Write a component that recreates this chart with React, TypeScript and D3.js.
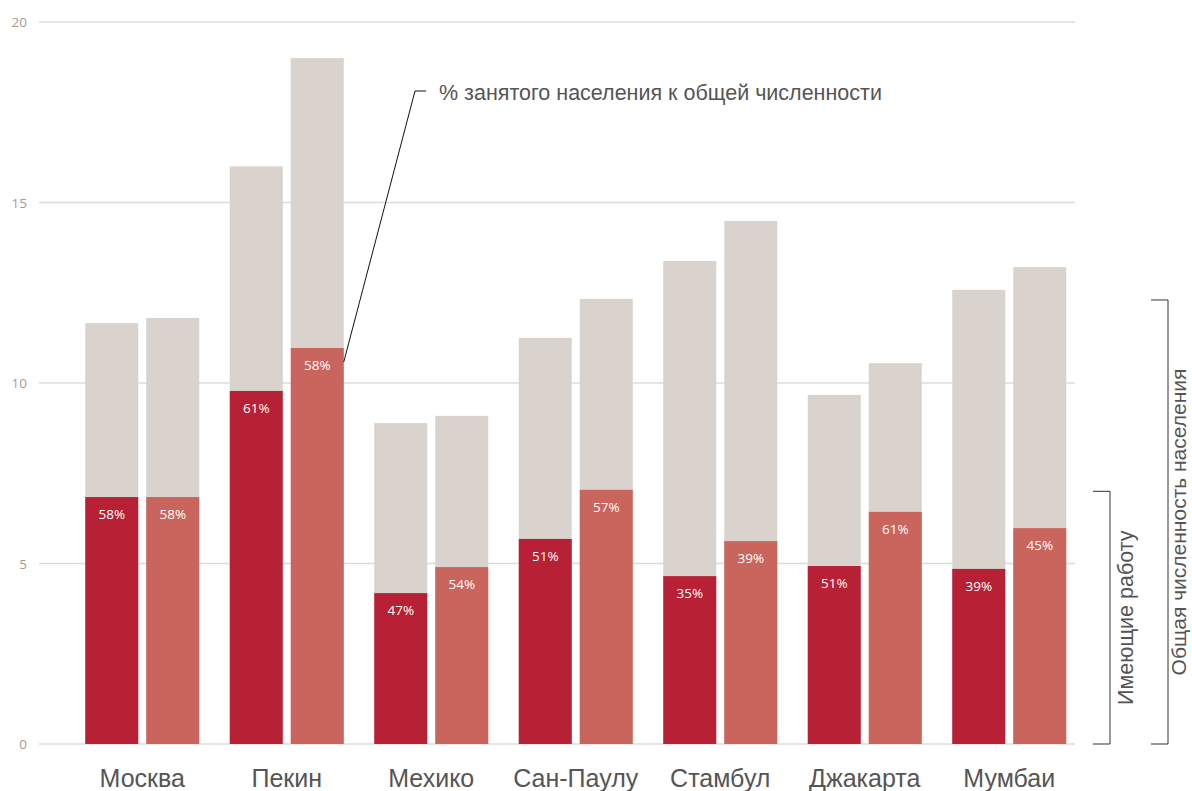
import React from "react";
import * as d3 from "d3";

const cities = ["Москва", "Пекин", "Мехико", "Сан-Паулу", "Стамбул", "Джакарта", "Мумбаи"];
const total1 = [11.66, 16.0, 8.89, 11.25, 13.38, 9.67, 12.58];
const employed1 = [6.84, 9.78, 4.18, 5.68, 4.65, 4.93, 4.85];
const pct1 = ["58%", "61%", "47%", "51%", "35%", "51%", "39%"];
const total2 = [11.8, 19.0, 9.09, 12.33, 14.49, 10.55, 13.21];
const employed2 = [6.84, 10.97, 4.9, 7.04, 5.62, 6.43, 5.98];
const pct2 = ["58%", "58%", "54%", "57%", "39%", "61%", "45%"];
const yTicks = [0, 5, 10, 15, 20];

const W = 1192;
const H = 791;

export default function App() {
  const y = d3.scaleLinear().domain([0, 20]).range([744, 22]);
  const x = d3.scaleBand<string>().domain(cities).range([70, 1081.5]);
  const barW = 53;
  const gap = 8;
  const gray = "#dad2cd";
  const dark = "#b82035";
  const light = "#c9655c";
  const textFont = "'Liberation Sans', Arial, sans-serif";
  const labelFont = "'Open Sans', sans-serif";

  const center = (c: string) => (x(c) as number) + x.bandwidth() / 2;
  const annStart = [center(cities[1]) + gap / 2 + barW, y(employed2[1]) + 14];

  return (
    <svg width={W} height={H} style={{ position: "absolute", left: 0, top: 0, background: "#fff" }}>
      {yTicks.map((t) => (
        <g key={t}>
          <line x1={39} x2={1075} y1={y(t)} y2={y(t)} stroke="#dcdcdc" strokeWidth={1.3} />
          <text x={27} y={y(t) + 5} textAnchor="end" fontSize={13.5} fill="#a8998f" fontFamily={labelFont}>
            {t}
          </text>
        </g>
      ))}
      {cities.map((c, i) => {
        const cx = center(c);
        const x1 = cx - gap / 2 - barW;
        const x2 = cx + gap / 2;
        return (
          <g key={c}>
            <rect x={x1} y={y(total1[i])} width={barW} height={y(0) - y(total1[i])} fill={gray} />
            <rect x={x2} y={y(total2[i])} width={barW} height={y(0) - y(total2[i])} fill={gray} />
            <rect x={x1} y={y(employed1[i])} width={barW} height={y(0) - y(employed1[i])} fill={dark} />
            <rect x={x2} y={y(employed2[i])} width={barW} height={y(0) - y(employed2[i])} fill={light} />
            <text x={x1 + barW / 2} y={y(employed1[i]) + 22} textAnchor="middle" fontSize={13.5} fill="#fff" fontFamily={labelFont}>
              {pct1[i]}
            </text>
            <text x={x2 + barW / 2} y={y(employed2[i]) + 22} textAnchor="middle" fontSize={13.5} fill="#fff" fontFamily={labelFont}>
              {pct2[i]}
            </text>
            <text x={cx} y={787} textAnchor="middle" fontSize={25} fill="#555" fontFamily={textFont}>
              {c}
            </text>
          </g>
        );
      })}
      <polyline
        points={`${annStart[0]},${annStart[1]} 415,91 426,91`}
        fill="none"
        stroke="#111"
        strokeWidth={1}
      />
      <text x={439} y={100} fontSize={21.5} fill="#555" fontFamily={textFont}>
        % занятого населения к общей численности
      </text>
      <polyline points={`1093,${y(7)} 1110,${y(7)} 1110,${y(0)} 1093,${y(0)}`} fill="none" stroke="#333" strokeWidth={1} />
      <polyline points={`1151,${y(12.3)} 1168,${y(12.3)} 1168,${y(0)} 1151,${y(0)}`} fill="none" stroke="#333" strokeWidth={1} />
      <text
        transform={`translate(1133, ${(y(7) + y(0)) / 2}) rotate(-90)`}
        textAnchor="middle"
        fontSize={21.5}
        fill="#555"
        fontFamily={textFont}
      >
        Имеющие работу
      </text>
      <text
        transform={`translate(1186, ${(y(12.3) + y(0)) / 2}) rotate(-90)`}
        textAnchor="middle"
        fontSize={21}
        fill="#555"
        fontFamily={textFont}
      >
        Общая численность населения
      </text>
    </svg>
  );
}
